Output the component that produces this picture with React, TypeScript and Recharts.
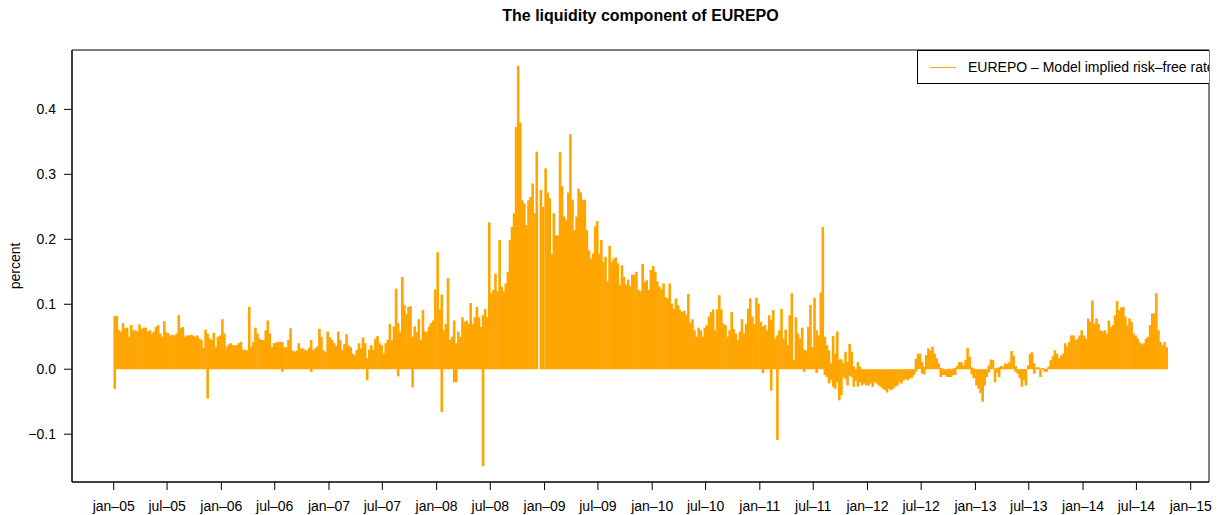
import React from 'react';
import { ComposedChart, Bar, XAxis, YAxis, ReferenceArea } from 'recharts';

const TITLE = 'The liquidity component of EUREPO';
const SERIES_NAME = 'EUREPO – Model implied risk–free rate';
const ORANGE = '#FFA500';
const FONT = "'Liberation Sans', Arial, Helvetica, sans-serif";

// weekly highs (percent), one array per year
const liq2005 = [0.082, 0.082, 0.06, 0.058, 0.071, 0.063, 0.064, 0.05, 0.068, 0.06, 0.06, 0.058, 0.069, 0.062, 0.064, 0.064, 0.058, 0.06, 0.055, 0.058, 0.065, 0.068, 0.055, 0.05, 0.074, 0.057, 0.055, 0.052, 0.053, 0.052, 0.055, 0.083, 0.063, 0.065, 0.05, 0.052, 0.052, 0.053, 0.052, 0.05, 0.052, 0.047, 0.045, 0.033, 0.061, 0.055, 0.047, 0.045, 0.056, 0.034, 0.05, 0.052];
const liq2006 = [0.077, 0.055, 0.034, 0.038, 0.04, 0.037, 0.037, 0.037, 0.04, 0.042, 0.03, 0.03, 0.029, 0.096, 0.034, 0.042, 0.064, 0.055, 0.047, 0.045, 0.045, 0.06, 0.075, 0.055, 0.034, 0.04, 0.041, 0.042, 0.042, 0.042, 0.034, 0.034, 0.045, 0.063, 0.029, 0.027, 0.029, 0.04, 0.032, 0.032, 0.03, 0.029, 0.033, 0.045, 0.029, 0.032, 0.035, 0.062, 0.05, 0.029, 0.027, 0.058];
const liq2007 = [0.049, 0.045, 0.04, 0.036, 0.058, 0.045, 0.03, 0.039, 0.054, 0.037, 0.034, 0.024, 0.022, 0.03, 0.04, 0.032, 0.049, 0.04, 0.017, 0.03, 0.037, 0.03, 0.047, 0.051, 0.04, 0.037, 0.024, 0.04, 0.045, 0.07, 0.045, 0.066, 0.124, 0.071, 0.058, 0.142, 0.099, 0.085, 0.096, 0.097, 0.05, 0.066, 0.057, 0.077, 0.045, 0.091, 0.058, 0.058, 0.066, 0.071, 0.075, 0.123];
const liq2008 = [0.18, 0.092, 0.115, 0.06, 0.07, 0.14, 0.045, 0.05, 0.075, 0.04, 0.058, 0.05, 0.08, 0.073, 0.075, 0.07, 0.102, 0.07, 0.08, 0.096, 0.08, 0.065, 0.083, 0.093, 0.08, 0.226, 0.117, 0.122, 0.147, 0.12, 0.199, 0.127, 0.12, 0.132, 0.15, 0.199, 0.219, 0.24, 0.373, 0.467, 0.38, 0.26, 0.255, 0.222, 0.26, 0.265, 0.286, 0.24, 0.335, 0, 0.276, 0.25];
const liq2009 = [0.309, 0.272, 0.263, 0.177, 0.24, 0.206, 0.206, 0.334, 0.282, 0.235, 0.23, 0.272, 0.362, 0.261, 0.214, 0.235, 0.278, 0.272, 0.26, 0.261, 0.214, 0.183, 0.17, 0.178, 0.22, 0.228, 0.178, 0.199, 0.165, 0.173, 0.135, 0.19, 0.165, 0.17, 0.172, 0.163, 0.13, 0.16, 0.142, 0.13, 0.138, 0.128, 0.146, 0.145, 0.15, 0.122, 0.12, 0.162, 0.135, 0.137, 0.122, 0.153];
const liq2010 = [0.159, 0.15, 0.135, 0.127, 0.123, 0.132, 0.111, 0.109, 0.132, 0.101, 0.093, 0.109, 0.099, 0.091, 0.088, 0.09, 0.084, 0.116, 0.072, 0.077, 0.06, 0.05, 0.064, 0.06, 0.05, 0.064, 0.068, 0.081, 0.088, 0.092, 0.06, 0.092, 0.114, 0.092, 0.07, 0.068, 0.05, 0.06, 0.088, 0.062, 0.055, 0.045, 0.058, 0.077, 0.055, 0.07, 0.093, 0.109, 0.081, 0.07, 0.11, 0.101];
const liq2011 = [0.073, 0.066, 0.068, 0.06, 0.083, 0.075, 0.091, 0.047, 0.052, 0.06, 0.093, 0.047, 0.061, 0.037, 0.083, 0.117, 0.014, 0.08, 0.055, 0.047, 0.064, 0.03, 0.029, 0.065, 0.099, 0.034, 0.11, 0.06, 0.052, 0.118, 0.219, 0.05, 0.037, 0.029, 0.009, 0.051, 0.024, 0.058, 0.015, 0.015, 0.009, 0.027, 0.011, 0.039, 0.027, 0.004, 0, 0.011, 0.004, 0, 0, 0];
const liq2012 = [0, 0, 0, 0, 0, 0, 0, 0, 0, 0, 0, 0, 0, 0, 0, 0, 0, 0, 0, 0, 0, 0, 0, 0.016, 0.024, 0.024, 0.011, 0.004, 0.022, 0.032, 0.029, 0.035, 0.024, 0.017, 0.009, 0.002, 0.001, 0, 0, 0.001, 0, 0.001, 0.002, 0.005, 0.011, 0.011, 0.006, 0.014, 0.033, 0.019, 0.003, 0.001];
const liq2013 = [0, 0, 0, 0, 0, 0, 0.006, 0.015, 0.014, 0.001, 0.002, 0.003, 0.005, 0.004, 0.009, 0.008, 0.011, 0.028, 0.021, 0.005, 0, 0, 0, 0, 0, 0.006, 0.024, 0.026, 0.009, 0.003, 0.003, 0.001, 0.002, 0.001, 0.001, 0.004, 0.014, 0.02, 0.029, 0.024, 0.017, 0.021, 0.024, 0.04, 0.035, 0.042, 0.052, 0.052, 0.045, 0.047, 0.052, 0.06];
const liq2014 = [0.052, 0.047, 0.078, 0.073, 0.106, 0.07, 0.078, 0.07, 0.06, 0.058, 0.06, 0.055, 0.075, 0.065, 0.068, 0.083, 0.105, 0.091, 0.095, 0.096, 0.081, 0.068, 0.078, 0.073, 0.055, 0.052, 0.047, 0.041, 0.038, 0.04, 0.047, 0.05, 0.068, 0.086, 0.086, 0.117, 0.06, 0.042, 0.037, 0.042, 0.034];

// weekly lows where the series dips below zero for long stretches
const neg2011 = [0, -0.006, 0, 0, 0, -0.033, 0, 0, -0.109, 0, 0, 0, 0, 0, 0, 0, 0, 0, 0, 0, 0, -0.004, 0, 0, 0, 0, 0, -0.006, 0, 0, 0, -0.009, -0.012, -0.022, -0.017, -0.027, -0.03, -0.02, -0.048, -0.04, -0.012, -0.015, -0.025, -0.01, -0.012, -0.027, -0.018, -0.027, -0.02, -0.025, -0.022, -0.025];
const neg2012 = [-0.025, -0.022, -0.027, -0.02, -0.022, -0.025, -0.027, -0.03, -0.032, -0.036, -0.03, -0.032, -0.03, -0.027, -0.025, -0.02, -0.022, -0.017, -0.015, -0.017, -0.014, -0.013, -0.009, -0.004, 0, 0, -0.007, -0.008, 0, 0, 0, 0, 0, 0, 0, -0.012, -0.009, -0.009, -0.012, -0.012, -0.012, -0.009, -0.009, 0, 0, 0, 0, 0, 0, 0, -0.008, -0.014];
const neg2013 = [-0.025, -0.03, -0.037, -0.05, -0.025, -0.012, -0.005, 0, 0, -0.02, -0.005, -0.012, 0, 0, 0, 0, 0, 0, 0, -0.004, -0.007, -0.014, -0.027, -0.017, -0.025, 0, 0, 0, -0.007, 0, 0, -0.012, 0, -0.004, -0.004, 0, 0, 0, 0, 0, 0, 0, 0, 0, 0, 0, 0, 0, 0, 0, 0, 0];

// isolated negative spikes elsewhere: [year, week, value]
const negSpikes: [number, number, number][] = [
  [2005, 0, -0.03], [2005, 45, -0.045], [2006, 29, -0.004], [2006, 43, -0.004],
  [2007, 18, -0.017], [2007, 33, -0.011], [2007, 40, -0.028],
  [2008, 2, -0.066], [2008, 8, -0.02], [2008, 9, -0.02], [2008, 22, -0.149],
];

const YEARS = [2005, 2006, 2007, 2008, 2009, 2010, 2011, 2012, 2013, 2014];
const HIGHS = [liq2005, liq2006, liq2007, liq2008, liq2009, liq2010, liq2011, liq2012, liq2013, liq2014];
const LOWS: Record<number, number[]> = { 2011: neg2011, 2012: neg2012, 2013: neg2013 };

const TICK_YEARS = [2005, 2006, 2007, 2008, 2009, 2010, 2011, 2012, 2013, 2014, 2015];
const TICK_MONTHS = ['jan', 'jul'];
const Y_TICKS = [-0.1, 0, 0.1, 0.2, 0.3, 0.4];

// axis ranges as R pads them (4% each side)
const X_DOMAIN: [number, number] = [-141.4, 3714.1];
const Y_DOMAIN: [number, number] = [-0.1736, 0.4914];

const dayOf = (y: number, m: number) => (Date.UTC(y, m, 1) - Date.UTC(2005, 0, 1)) / 864e5;

const rows: { day: number; range: [number, number] }[] = [];
YEARS.forEach((year, yi) => {
  HIGHS[yi].forEach((hi, w) => {
    let lo = LOWS[year] ? LOWS[year][w] : 0;
    const spike = negSpikes.find(([y, wk]) => y === year && wk === w);
    if (spike) lo = spike[2];
    rows.push({ day: dayOf(year, 0) + w * 7 + 3, range: [lo, hi] });
  });
});

const xTicks: number[] = [];
const xLabels = new Map<number, string>();
TICK_YEARS.forEach((y) => {
  TICK_MONTHS.forEach((m, i) => {
    if (y === 2015 && i > 0) return;
    const d = dayOf(y, i * 6);
    xTicks.push(d);
    xLabels.set(d, `${m}–${String(y).slice(2)}`);
  });
});

const fmtY = (v: number) => (v < 0 ? '−' : '') + Math.abs(v).toFixed(1);

const tickStyle = { fill: '#000', fontSize: 14, fontFamily: FONT };

// R's type="h" lines sit so close that they merge; widen each bar a little so the weeks touch
const SpikeShape = (p: any) => {
  const { x, y, width, height } = p;
  if (!height) return <g />;
  const top = Math.min(y, y + height);
  return <rect x={x - 0.3} y={top} width={width + 0.6} height={Math.abs(height)} fill={ORANGE} />;
};

export default function App() {
  return (
    <div style={{ position: 'relative', width: 1222, height: 515, background: '#fff', fontFamily: FONT }}>
      <style>{'body{margin:0}'}</style>

      <div style={{ position: 'absolute', top: 7, left: 0, width: 1281, textAlign: 'center', fontSize: 16, fontWeight: 'bold' }}>
        {TITLE}
      </div>

      <div
        style={{
          position: 'absolute', left: 15, top: 266, fontSize: 14, whiteSpace: 'nowrap',
          transform: 'translate(-50%, -50%) rotate(-90deg)',
        }}
      >
        percent
      </div>

      <ComposedChart
        width={1222}
        height={515}
        data={rows}
        margin={{ top: 50, right: 13, bottom: 0, left: 0 }}
      >
        <XAxis
          type="number"
          dataKey="day"
          domain={X_DOMAIN}
          allowDataOverflow
          ticks={xTicks}
          interval={0}
          tickFormatter={(d: number) => xLabels.get(d) ?? ''}
          height={33}
          tickSize={8}
          tickMargin={11}
          tick={tickStyle}
          axisLine={{ stroke: '#000' }}
          tickLine={{ stroke: '#000' }}
        />
        <YAxis
          type="number"
          domain={Y_DOMAIN}
          allowDataOverflow
          ticks={Y_TICKS}
          interval={0}
          tickFormatter={fmtY}
          width={72}
          tickSize={8}
          tickMargin={8}
          tick={tickStyle}
          axisLine={{ stroke: '#000' }}
          tickLine={{ stroke: '#000' }}
        />
        <Bar dataKey="range" fill={ORANGE} shape={SpikeShape} isAnimationActive={false} />
        <ReferenceArea
          x1={X_DOMAIN[0]}
          x2={X_DOMAIN[1]}
          y1={Y_DOMAIN[0]}
          y2={Y_DOMAIN[1]}
          fill="none"
          stroke="#000"
          ifOverflow="visible"
        />
      </ComposedChart>

      {/* legend box sits inside the plot region and is clipped at its right edge */}
      <div style={{ position: 'absolute', left: 917, top: 50, width: 292, height: 34, overflow: 'hidden' }}>
        <div
          style={{
            position: 'absolute', left: 0, top: 0, width: 340, height: 32,
            border: '1px solid #000', background: '#fff', boxSizing: 'content-box',
          }}
        >
          <div style={{ position: 'absolute', left: 12, top: 16, width: 26, height: 1, background: ORANGE }} />
          <div style={{ position: 'absolute', left: 50, top: 8, fontSize: 14, whiteSpace: 'nowrap', lineHeight: '17px' }}>
            {SERIES_NAME}
          </div>
        </div>
      </div>
    </div>
  );
}
